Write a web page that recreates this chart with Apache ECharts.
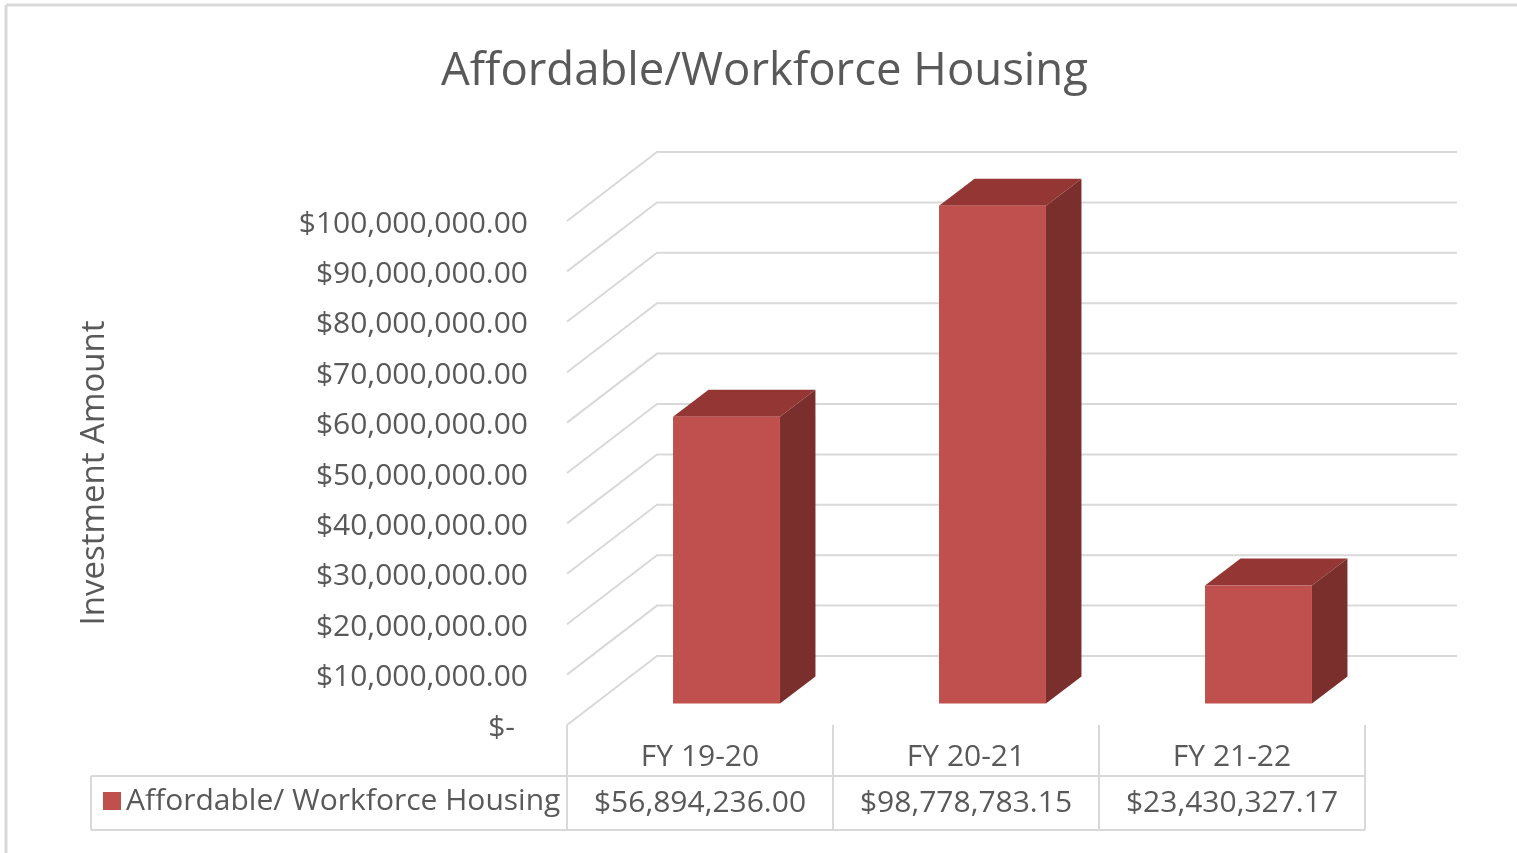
<!DOCTYPE html>
<html>
<head>
<meta charset="utf-8">
<title>Affordable/Workforce Housing</title>
<script src="https://cdn.jsdelivr.net/npm/echarts@6/dist/echarts.min.js"></script>
<style>
  html, body { margin: 0; padding: 0; background: #fff; }
  #chart { width: 1517px; height: 853px; }
</style>
</head>
<body>
<div id="chart"></div>
<script>
var categories = ['FY 19-20', 'FY 20-21', 'FY 21-22'];
var seriesName = 'Affordable/ Workforce Housing';
var amounts = [56894236.00, 98778783.15, 23430327.17];
var gridValues = [0, 10000000, 20000000, 30000000, 40000000, 50000000,
                  60000000, 70000000, 80000000, 90000000, 100000000];

var textColor = '#595959';
var lineColor = '#d9d9d9';
var fontFamily = '"Open Sans", "Noto Sans", sans-serif';

// 3d look: front plane sits a bit behind the wall front edge
var frontShift = -21.5;
var depthX = 35.5, depthY = -27;
var wallX = 90, wallY = -69;

function money(v) {
    return '$' + v.toLocaleString('en-US', { minimumFractionDigits: 2, maximumFractionDigits: 2 });
}

var chart = echarts.init(document.getElementById('chart'));

var option = {
    animation: false,
    textStyle: { fontFamily: fontFamily },
    title: {
        text: 'Affordable/Workforce Housing',
        left: 436,
        top: 44,
        textStyle: { fontFamily: fontFamily, fontSize: 45.5, fontWeight: 'normal', color: textColor }
    },
    legend: {
        data: [seriesName],
        left: 103,
        top: 786,
        padding: 0,
        icon: 'rect',
        itemWidth: 18,
        itemHeight: 18,
        textStyle: { fontFamily: fontFamily, fontSize: 30, color: textColor }
    },
    grid: { left: 567, top: 221, width: 798, height: 504 },
    xAxis: {
        type: 'category',
        data: categories,
        axisLine: { show: false },
        axisTick: { show: true, length: 105, lineStyle: { color: lineColor, width: 2 } },
        axisLabel: {
            margin: 9,
            interval: 0,
            formatter: function (value, index) {
                return '{a|' + value + '}\n{b|' + money(amounts[index]) + '}';
            },
            rich: {
                a: { fontFamily: fontFamily, fontSize: 30, color: textColor, lineHeight: 46 },
                b: { fontFamily: fontFamily, fontSize: 30, color: textColor, lineHeight: 47 }
            }
        }
    },
    yAxis: {
        type: 'value',
        min: 0,
        max: 100000000,
        interval: 10000000,
        name: 'Investment Amount',
        nameLocation: 'middle',
        nameGap: 456,
        nameTextStyle: { fontFamily: fontFamily, fontSize: 33, color: textColor },
        axisLine: { show: false },
        axisTick: { show: false },
        splitLine: { show: false },
        axisLabel: {
            margin: 39,
            fontFamily: fontFamily,
            fontSize: 30,
            color: textColor,
            padding: [6, 0, 0, 0],
            formatter: function (v) {
                if (v === 0) return '{z|$-}';
                return money(v);
            },
            rich: {
                z: { fontFamily: fontFamily, fontSize: 30, color: textColor, padding: [0, 13, 0, 0] }
            }
        }
    },
    graphic: [
        { type: 'line', shape: { x1: 6, y1: 5, x2: 1517, y2: 5 }, style: { stroke: lineColor, lineWidth: 3 } },
        { type: 'line', shape: { x1: 6, y1: 5, x2: 6, y2: 853 }, style: { stroke: lineColor, lineWidth: 3 } },
        { type: 'line', shape: { x1: 91, y1: 776, x2: 1365, y2: 776 }, style: { stroke: lineColor, lineWidth: 2 } },
        { type: 'line', shape: { x1: 91, y1: 830, x2: 1365, y2: 830 }, style: { stroke: lineColor, lineWidth: 2 } },
        { type: 'line', shape: { x1: 91, y1: 776, x2: 91, y2: 830 }, style: { stroke: lineColor, lineWidth: 2 } }
    ],
    series: [
        {
            type: 'custom',
            name: 'walls',
            silent: true,
            z: 1,
            data: gridValues,
            renderItem: function (params, api) {
                var area = params.coordSys;
                var p = api.coord([0, api.value(0)]);
                var y = p[1];
                return {
                    type: 'polyline',
                    shape: {
                        points: [
                            [area.x, y],
                            [area.x + wallX, y + wallY],
                            [area.x + area.width + wallX + 2, y + wallY]
                        ]
                    },
                    style: { stroke: lineColor, lineWidth: 2, fill: null }
                };
            },
            encode: { y: 0 }
        },
        {
            type: 'custom',
            name: seriesName,
            z: 3,
            itemStyle: { color: '#c0504d' },
            data: amounts.map(function (v, i) { return [i, v]; }),
            renderItem: function (params, api) {
                var top = api.coord([api.value(0), api.value(1)]);
                var base = api.coord([api.value(0), 0]);
                var bw = api.size([1, 0])[0] * 0.402;
                var x0 = top[0] + 26.5 - bw / 2;
                var x1 = x0 + bw;
                var yt = top[1] + frontShift;
                var yb = base[1] + frontShift;
                return {
                    type: 'group',
                    children: [
                        {
                            type: 'polygon',
                            shape: { points: [[x0, yt], [x1, yt], [x1 + depthX, yt + depthY], [x0 + depthX, yt + depthY]] },
                            style: { fill: '#943634' }
                        },
                        {
                            type: 'polygon',
                            shape: { points: [[x1, yt], [x1 + depthX, yt + depthY], [x1 + depthX, yb + depthY], [x1, yb]] },
                            style: { fill: '#7b2f2d' }
                        },
                        {
                            type: 'rect',
                            shape: { x: x0, y: yt, width: bw, height: yb - yt },
                            style: { fill: '#c0504d' }
                        }
                    ]
                };
            },
            encode: { x: 0, y: 1 }
        }
    ]
};

chart.setOption(option);
</script>
</body>
</html>
